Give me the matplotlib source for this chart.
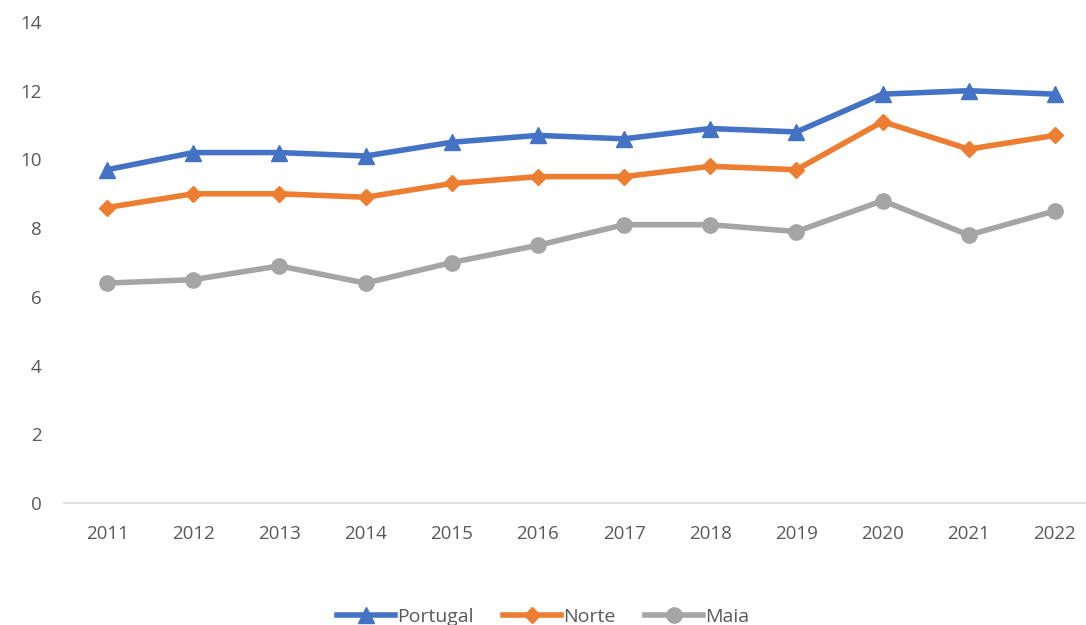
import matplotlib.pyplot as plt

# Dados
anos = ['2011', '2012', '2013', '2014', '2015', '2016', '2017', '2018', '2019', '2020', '2021', '2022']
portugal = [9.7, 10.2, 10.2, 10.1, 10.5, 10.7, 10.6, 10.9, 10.8, 11.9, 12.0, 11.9]
norte = [8.6, 9.0, 9.0, 8.9, 9.3, 9.5, 9.5, 9.8, 9.7, 11.1, 10.3, 10.7]
maia = [6.4, 6.5, 6.9, 6.4, 7.0, 7.5, 8.1, 8.1, 7.9, 8.8, 7.8, 8.5]

plt.rcParams['font.family'] = ['Open Sans', 'DejaVu Sans']

fig = plt.figure(figsize=(10.86, 6.25), dpi=100)
ax = fig.add_axes([64 / 1086, 1 - 503 / 625, 1034 / 1086, 481 / 625])

x = range(len(anos))
ax.plot(x, portugal, color='#4472C4', lw=4, marker='^', ms=11, label='Portugal')
ax.plot(x, norte, color='#ED7D31', lw=4, marker='D', ms=8, label='Norte')
ax.plot(x, maia, color='#A5A5A5', lw=4, marker='o', ms=11, label='Maia')

ax.set_xlim(-0.5, 11.5)
ax.set_ylim(0, 14)
ax.set_yticks(range(0, 15, 2))
ax.set_xticks(list(x))
ax.set_xticklabels(anos)

for s in ['top', 'right', 'left']:
    ax.spines[s].set_visible(False)
ax.spines['bottom'].set_color('#D9D9D9')
ax.spines['bottom'].set_linewidth(1.2)
ax.tick_params(axis='both', length=0, labelsize=13.5, colors='#595959')
ax.tick_params(axis='x', pad=16)
ax.tick_params(axis='y', pad=16)

leg = fig.legend(loc='lower center', bbox_to_anchor=(0.5, -0.03), ncol=3, frameon=False,
                 fontsize=14, handlelength=3, columnspacing=1.5, handletextpad=0.1)
for t in leg.get_texts():
    t.set_color('#595959')

fig.savefig('out.png', dpi=100)
